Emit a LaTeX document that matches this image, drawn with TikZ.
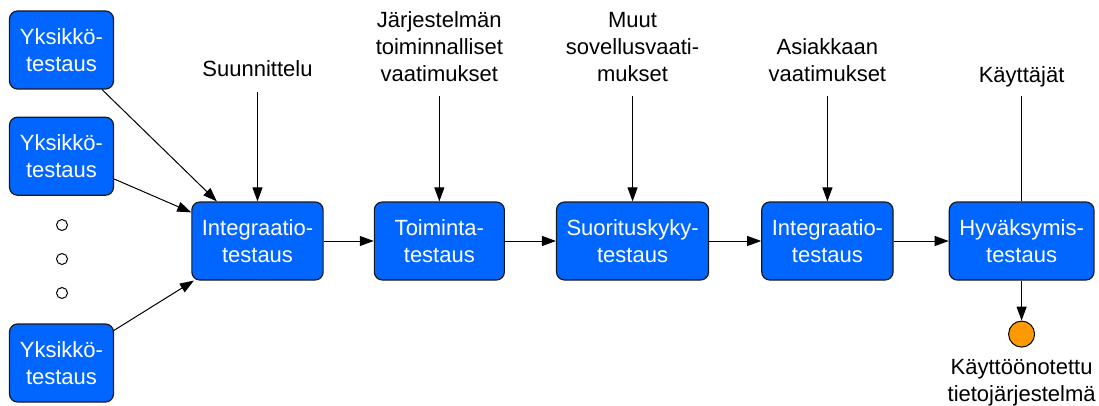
\documentclass[tikz,border=0pt]{standalone}
\usepackage{fontspec}
\setmainfont{Liberation Sans}
\usetikzlibrary{arrows.meta,positioning}
\definecolor{boxblue}{RGB}{0,102,255}
\definecolor{endorange}{RGB}{255,153,0}
\begin{document}
\begin{tikzpicture}[x=1pt,y=-1pt,font=\fontsize{22}{27}\selectfont]
	\tikzstyle{block} = [rectangle, draw=black!90, line width=1.2pt, fill=boxblue, text=white, align=center, rounded corners=8pt, minimum height=78pt, minimum width=130pt, inner xsep=10pt]
	\tikzstyle{unit} = [block, minimum width=104pt]
	\tikzstyle{line} = [draw, line width=1pt, -{Triangle[length=14pt,width=10pt]}]
	\tikzstyle{feed} = [line, shorten <=14pt]
	\tikzstyle{input} = [align=center, inner sep=0pt]
	\tikzstyle{dot} = [circle, draw, line width=1pt, minimum size=11pt, inner sep=0pt]
	\useasboundingbox (0,0) rectangle (1099,406);

	\node [unit] (Yks1) at (61.5,50) {Yksikkö-\\testaus};
	\node [unit, below=27pt of Yks1] (Yks2) {Yksikkö-\\testaus};
	\node [unit] (Yks3) at (61.5,363) {Yksikkö-\\testaus};
	\foreach \i/\y in {1/225,2/259,3/293}
		\node [dot] (dot\i) at (62,\y) {};

	\node [block] (Int1) at (257.5,241) {Integraatio-\\testaus};
	\node [block, right=50pt of Int1] (Toim) {Toiminta-\\testaus};
	\node [block, right=51pt of Toim] (Suor) {Suorituskyky-\\testaus};
	\node [block, right=52pt of Suor] (Int2) {Integraatio-\\testaus};
	\node [block, right=55pt of Int2] (Hyv) {Hyväksymis-\\testaus};
	\path [line] (Yks1) -- (Int1);
	\path [line] (Yks2) -- (Int1);
	\path [line] (Yks3) -- (Int1);
	\path [line] (Int1) -- (Toim);
	\path [line] (Toim) -- (Suor);
	\path [line] (Suor) -- (Int2);
	\path [line] (Int2) -- (Hyv);

	% syotteet ylhaalta
	\node [input, above=124pt of Int1] (Suun) {Suunnittelu};
	\node [input, above=119pt of Toim] (JarjVaat) {Järjestelmän\\toiminnalliset\\vaatimukset};
	\node [input, above=119pt of Suor] (MuutVaat) {Muut\\sovellusvaati-\\mukset};
	\node [input, above=119pt of Int2] (AsVaat) {Asiakkaan\\vaatimukset};
	\node [input, above=114pt of Hyv] (Kayt) {Käyttäjät};
	\path [feed, shorten <=15pt] (Suun) -- (Int1);
	\path [feed] (JarjVaat) -- (Toim);
	\path [feed] (MuutVaat) -- (Suor);
	\path [feed] (AsVaat) -- (Int2);
	\draw [line width=1pt, shorten <=9pt] (Kayt) -- (Hyv);

	\node [circle, draw, line width=1pt, fill=endorange, minimum size=26pt, inner sep=0pt, below=40pt of Hyv] (Valmis) {};
	\path [line] (Hyv) -- (Valmis);
	\node [input, below=12pt of Valmis] (ValmisTxt) {Käyttöönotettu\\tietojärjestelmä};
\end{tikzpicture}
\end{document}
